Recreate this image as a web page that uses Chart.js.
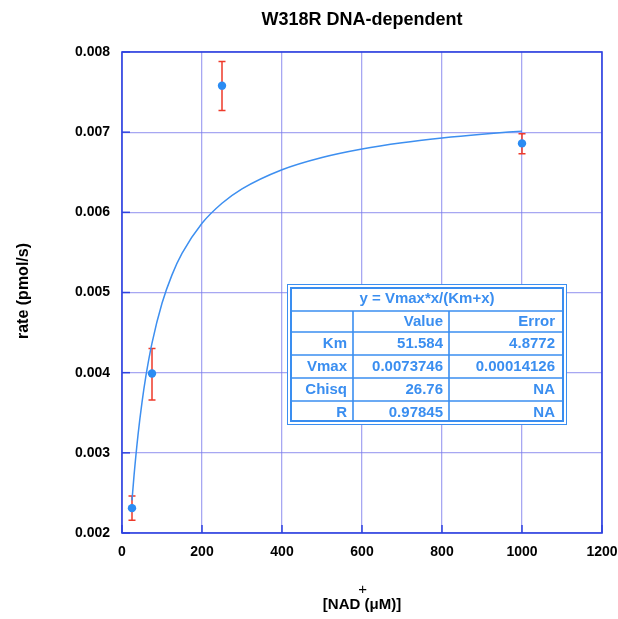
<!DOCTYPE html>
<html><head><meta charset="utf-8">
<script src="https://cdn.jsdelivr.net/npm/chart.js@4.4.0/dist/chart.umd.min.js"></script>
<style>html,body{margin:0;padding:0;background:#fff}#wrap{width:618px;height:619px}</style>
</head><body><div id="wrap"><canvas id="c" width="618" height="619"></canvas></div>
<script>
// Measured points
const nadX = [25, 75, 250, 1000];
const rateY = [0.00231, 0.00399, 0.00758, 0.00686];
const errLow = [0.00216, 0.00366, 0.00727, 0.00673];
const errHigh = [0.00246, 0.00430, 0.00788, 0.00698];
// Fitted curve (Vmax*x/(Km+x)) points
const curveX = [25, 30, 40, 50, 60, 75, 100, 125, 150, 200, 250, 300, 400, 500, 600, 700, 800, 900, 1000];
const curveY = [0.002407, 0.002712, 0.003221, 0.003630, 0.003965, 0.004369, 0.004865, 0.005220, 0.005487, 0.005863, 0.006113, 0.006293, 0.006532, 0.006685, 0.006791, 0.006869, 0.006928, 0.006975, 0.007013];
// Axis ticks
const xTicks = [0, 200, 400, 600, 800, 1000, 1200];
const yTicks = [0.002, 0.003, 0.004, 0.005, 0.006, 0.007, 0.008];
// Fit results table
const tableTitle = 'y = Vmax*x/(Km+x)';
const tableHeader = ['', 'Value', 'Error'];
const tableRows = [
  ['Km', '51.584', '4.8772'],
  ['Vmax', '0.0073746', '0.00014126'],
  ['Chisq', '26.76', 'NA'],
  ['R', '0.97845', 'NA']
];
const chartTitle = 'W318R DNA-dependent';
const yTitle = 'rate (pmol/s)';

const FONT = 'Liberation Sans, Arial, Helvetica, sans-serif';
const frameColor = '#2f43e0';
const gridColor = 'rgba(120,120,235,0.65)';
const blue = '#2b8cf3';
const tableBlue = '#3a8ef0';

const deco = {
  id: 'deco',
  beforeDatasetsDraw(chart) {
    const {ctx, chartArea: a, scales: {x, y}} = chart;
    ctx.save();
    ctx.strokeStyle = frameColor; ctx.lineWidth = 1.5;
    xTicks.forEach(v => { const px = x.getPixelForValue(v);
      ctx.beginPath(); ctx.moveTo(px, a.bottom); ctx.lineTo(px, a.bottom - 8); ctx.stroke(); });
    yTicks.forEach(v => { const py = y.getPixelForValue(v);
      ctx.beginPath(); ctx.moveTo(a.left, py); ctx.lineTo(a.left + 8, py); ctx.stroke(); });
    ctx.lineWidth = 1.6;
    ctx.strokeRect(a.left, a.top, a.right - a.left, a.bottom - a.top);
    ctx.strokeStyle = '#ee3a2a'; ctx.lineWidth = 1.5;
    nadX.forEach((v, i) => {
      const px = x.getPixelForValue(v), lo = y.getPixelForValue(errLow[i]), hi = y.getPixelForValue(errHigh[i]);
      ctx.beginPath();
      ctx.moveTo(px, lo); ctx.lineTo(px, hi);
      ctx.moveTo(px - 3.5, lo); ctx.lineTo(px + 3.5, lo);
      ctx.moveTo(px - 3.5, hi); ctx.lineTo(px + 3.5, hi);
      ctx.stroke();
    });
    ctx.restore();
  },
  afterDraw(chart) {
    const {ctx, chartArea: a} = chart;
    ctx.save();
    ctx.fillStyle = '#000';
    ctx.font = 'bold 18px ' + FONT;
    ctx.textAlign = 'center'; ctx.textBaseline = 'middle';
    ctx.fillText(chartTitle, (a.left + a.right) / 2, 20);
    ctx.save();
    ctx.translate(24, 291); ctx.rotate(-Math.PI / 2);
    ctx.font = 'bold 16px ' + FONT;
    ctx.fillText(yTitle, 0, 0);
    ctx.restore();
    ctx.font = 'bold 15px ' + FONT;
    const main = '[NAD (\u03bcM)]';
    const w = ctx.measureText(main).width;
    const cx = (a.left + a.right) / 2;
    const left = cx - w / 2;
    ctx.textAlign = 'left';
    ctx.fillText(main, left, 605);
    const wNad = ctx.measureText('[NAD').width;
    ctx.font = '15px ' + FONT;
    ctx.fillText('+', left + wNad - 2, 590);
    // table
    const L = 287, R = 567, T = 284, B = 425;
    ctx.fillStyle = '#fff';
    ctx.fillRect(L, T, R - L, B - T);
    ctx.strokeStyle = tableBlue;
    ctx.lineWidth = 1; ctx.strokeRect(L + 0.5, T + 0.5, R - L - 1, B - T - 1);
    ctx.lineWidth = 2; ctx.strokeRect(L + 4, T + 4, R - L - 8, B - T - 8);
    const rowLines = [311, 332, 355, 378, 401];
    const colLines = [353, 449];
    ctx.lineWidth = 1.6;
    rowLines.forEach(yy => { ctx.beginPath(); ctx.moveTo(L + 4, yy); ctx.lineTo(R - 4, yy); ctx.stroke(); });
    colLines.forEach(xx => { ctx.beginPath(); ctx.moveTo(xx, 311); ctx.lineTo(xx, B - 4); ctx.stroke(); });
    ctx.fillStyle = tableBlue;
    ctx.font = 'bold 15px ' + FONT;
    ctx.textAlign = 'center';
    ctx.fillText(tableTitle, (L + R) / 2, 299);
    const rowsC = [322, 344, 367, 390, 413];
    const colR = [347, 443, 555];
    const all = [tableHeader].concat(tableRows);
    ctx.textAlign = 'right';
    all.forEach((row, ri) => row.forEach((t, ci) => ctx.fillText(t, colR[ci], rowsC[ri])));
    ctx.restore();
  }
};

new Chart(document.getElementById('c'), {
  type: 'scatter',
  data: {
    datasets: [
      { type: 'line', data: curveX.map((v, i) => ({x: v, y: curveY[i]})), borderColor: '#3d8ff0', borderWidth: 1.5,
        pointRadius: 0, fill: false, cubicInterpolationMode: 'monotone', order: 2 },
      { data: nadX.map((v, i) => ({x: v, y: rateY[i]})), backgroundColor: blue, borderWidth: 0,
        pointRadius: 4.2, pointHoverRadius: 4.2, order: 1 }
    ]
  },
  options: {
    responsive: false, animation: false, devicePixelRatio: 1,
    layout: { padding: { top: 52, right: 16, left: 0, bottom: 0 } },
    plugins: { legend: { display: false }, tooltip: { enabled: false } },
    scales: {
      x: { type: 'linear', min: 0, max: 1200,
        afterBuildTicks: s => { s.ticks = xTicks.map(v => ({value: v})); },
        afterFit: s => { s.height = 86; s.paddingRight = 0; s.paddingLeft = 0; },
        grid: { color: gridColor, lineWidth: 1.3, drawTicks: false },
        border: { display: false },
        ticks: { color: '#000', font: { family: FONT, size: 14, weight: 'bold' }, padding: 11,
          callback: v => String(v) } },
      y: { type: 'linear', min: 0.002, max: 0.008,
        afterBuildTicks: s => { s.ticks = yTicks.map(v => ({value: v})); },
        afterFit: s => { s.width = 122; s.paddingTop = 0; s.paddingBottom = 0; },
        grid: { color: gridColor, lineWidth: 1.3, drawTicks: false },
        border: { display: false },
        ticks: { color: '#000', font: { family: FONT, size: 14, weight: 'bold' }, padding: 12,
          callback: v => Number(v).toFixed(3) } }
    }
  },
  plugins: [deco]
});
</script></body></html>
